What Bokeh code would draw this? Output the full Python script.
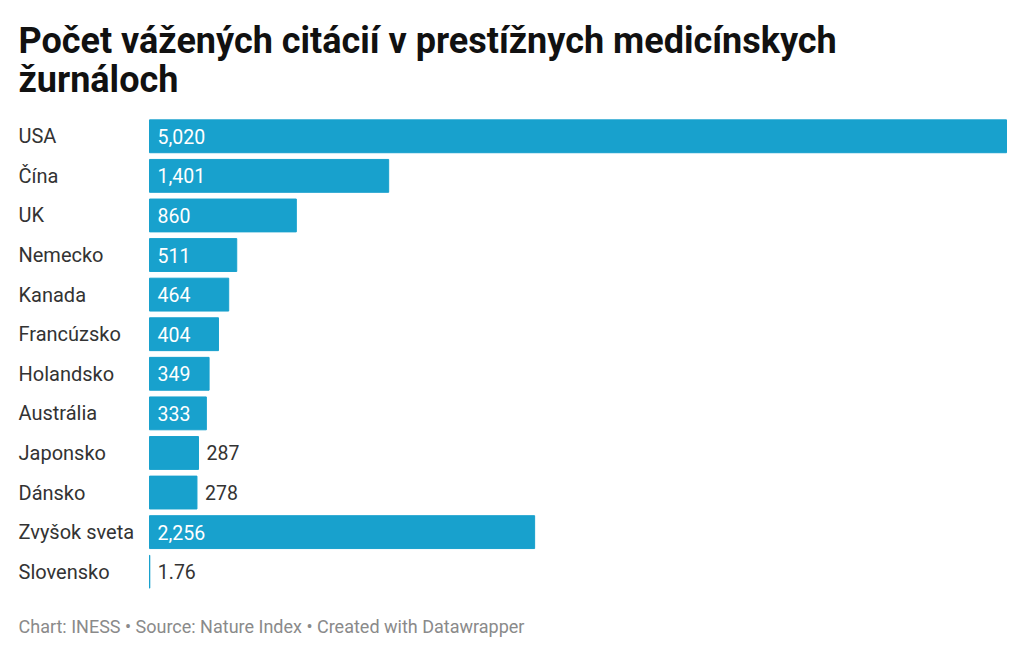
from bokeh.plotting import figure
from bokeh.models import Range1d, FactorRange, Title, ColumnDataSource
from bokeh.core.properties import value
from bokeh.embed import file_html
from bokeh.resources import INLINE

# ---- data ----
countries = ["USA", "Čína", "UK", "Nemecko", "Kanada", "Francúzsko", "Holandsko",
             "Austrália", "Japonsko", "Dánsko", "Zvyšok sveta", "Slovensko"]
citations = [5020, 1401, 860, 511, 464, 404, 349, 333, 287, 278, 2256, 1.76]
value_labels = ["5,020", "1,401", "860", "511", "464", "404", "349", "333",
                "287", "278", "2,256", "1.76"]
title_text = "Počet vážených citácií v prestížnych medicínskych\nžurnáloch"
footer_text = "Chart: INESS • Source: Nature Index • Created with Datawrapper"

# ---- layout ----
W, H = 1024, 659
LEFT, RIGHT = 149, 18
BAR_COLOR = "#18a1cd"
FONT = "Roboto"
px_per_unit = (W - LEFT - RIGHT) / max(citations)
x_range = Range1d(-LEFT / px_per_unit, max(citations) + RIGHT / px_per_unit)

p = figure(width=W, height=H, x_range=x_range,
           y_range=FactorRange(factors=countries[::-1]),
           output_backend="svg", toolbar_location=None,
           min_border_left=0, min_border_right=0,
           min_border_top=116, min_border_bottom=68)
p.axis.visible = False
p.grid.visible = False
p.outline_line_color = None
p.background_fill_color = "white"
p.border_fill_color = "white"

p.title.text = title_text
p.title.text_font = FONT
p.title.text_font_size = "36px"
p.title.text_font_style = "bold"
p.title.text_color = "#111111"
p.title.text_line_height = 0.93
p.title.offset = 18
p.title.align = "left"
p.title.standoff = 30

p.add_layout(Title(text=footer_text, text_font=FONT, text_font_size="18px",
                   text_font_style="normal", text_color="#8a8a8a",
                   align="left", offset=18, standoff=45), "below")

src = ColumnDataSource(dict(country=countries, value=citations, label=value_labels))
p.hbar(y="country", left=0, right="value", height=0.83, source=src,
       fill_color=BAR_COLOR, line_color=BAR_COLOR, line_width=1)

# country labels
p.text(x=0, y="country", text="country", source=src, x_offset=-131,
       text_align="left", text_baseline="middle",
       text_font=value(FONT), text_font_size="20px", text_color="#333333")

# value labels: inside (white) when the bar is wide enough, otherwise outside
inside = [v >= 300 for v in citations]
src_in = ColumnDataSource(dict(
    country=[c for c, f in zip(countries, inside) if f],
    label=[l for l, f in zip(value_labels, inside) if f]))
src_out = ColumnDataSource(dict(
    country=[c for c, f in zip(countries, inside) if not f],
    value=[v for v, f in zip(citations, inside) if not f],
    label=[l for l, f in zip(value_labels, inside) if not f]))
p.text(x=0, y="country", text="label", source=src_in, x_offset=8,
       text_align="left", text_baseline="middle",
       text_font=value(FONT), text_font_size="19.5px", text_color="white")
p.text(x="value", y="country", text="label", source=src_out, x_offset=8,
       text_align="left", text_baseline="middle",
       text_font=value(FONT), text_font_size="19.5px", text_color="#333333")

open("out.html", "w").write(file_html(p, INLINE))
